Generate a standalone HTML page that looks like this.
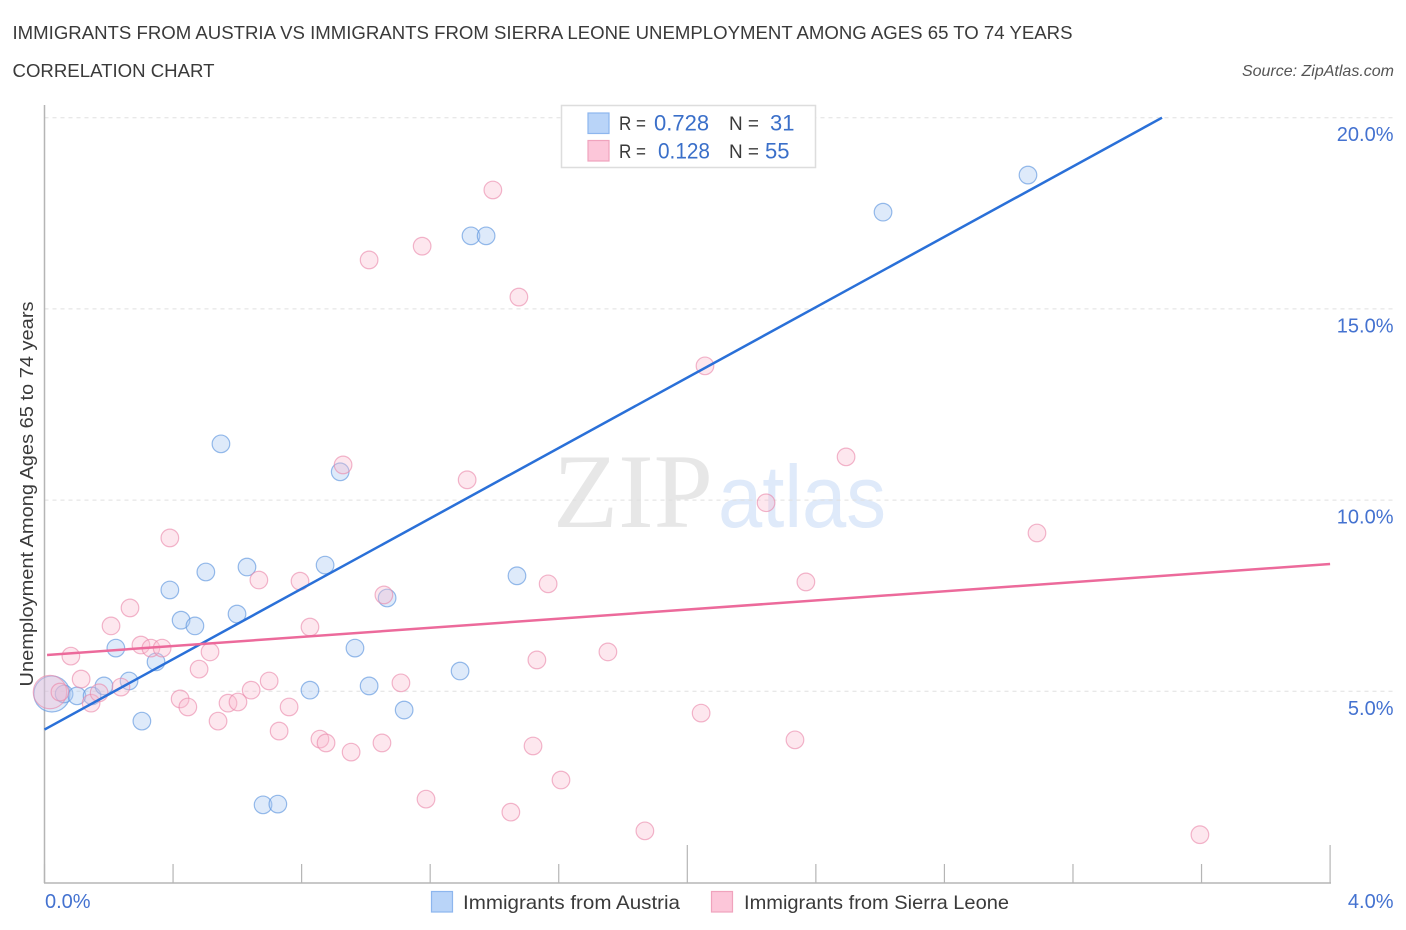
<!DOCTYPE html>
<html>
<head>
<meta charset="utf-8">
<title>Immigrants from Austria vs Immigrants from Sierra Leone Unemployment Correlation Chart</title>
<style>
html,body{margin:0;padding:0;background:#fff;width:1406px;height:930px;overflow:hidden}
svg{display:block;font-family:"Liberation Sans",sans-serif}
</style>
</head>
<body>
<svg id="chart" xmlns="http://www.w3.org/2000/svg" width="1406" height="930" viewBox="0 0 1406 930">
  <rect width="1406" height="930" fill="#ffffff"/>
  <text x="12.5" y="39" font-size="18.5" fill="#3a3a3a" textLength="1060" lengthAdjust="spacingAndGlyphs">IMMIGRANTS FROM AUSTRIA VS IMMIGRANTS FROM SIERRA LEONE UNEMPLOYMENT AMONG AGES 65 TO 74 YEARS</text>
  <text x="12.5" y="77" font-size="18.5" fill="#3a3a3a" textLength="202" lengthAdjust="spacingAndGlyphs">CORRELATION CHART</text>
  <text x="1394" y="76" font-size="16" font-style="italic" fill="#555" text-anchor="end">Source: ZipAtlas.com</text>

  <text x="553" y="527" font-family="'Liberation Serif',serif" font-size="106" fill="#e7e7e7" textLength="160" lengthAdjust="spacingAndGlyphs">ZIP</text>
  <text x="718" y="527" font-size="88" fill="#dfeafa" textLength="168" lengthAdjust="spacingAndGlyphs">atlas</text>

  <g id="grid"></g>
  <g id="axes"></g>
  <g id="points"></g>
  <g id="lines"></g>
  <g id="labels"></g>

  <text transform="translate(33,494) rotate(-90)" font-size="18.5" fill="#3a3a3a" text-anchor="middle" textLength="385" lengthAdjust="spacingAndGlyphs">Unemployment Among Ages 65 to 74 years</text>

  <g>
    <rect x="561.5" y="105.5" width="254" height="62" fill="#ffffff" stroke="#dddddd" stroke-width="1.5"/>
    <rect x="588" y="113" width="21" height="20.5" fill="#b9d4f8" stroke="#8db6ee" stroke-width="1.2"/>
    <rect x="588" y="140.5" width="21" height="20.5" fill="#fcc6d9" stroke="#f0a3bd" stroke-width="1.2"/>
    <text x="619" y="130" font-size="19" fill="#3a3a3a" textLength="27" lengthAdjust="spacingAndGlyphs">R =</text>
    <text x="654" y="130.5" font-size="22" fill="#3a6fc9">0.728</text>
    <text x="729" y="130" font-size="19" fill="#3a3a3a" textLength="30" lengthAdjust="spacingAndGlyphs">N =</text>
    <text x="770" y="130.5" font-size="22" fill="#3a6fc9">31</text>
    <text x="619" y="158" font-size="19" fill="#3a3a3a" textLength="27" lengthAdjust="spacingAndGlyphs">R =</text>
    <text x="658" y="158.5" font-size="22" fill="#3a6fc9" textLength="52" lengthAdjust="spacingAndGlyphs">0.128</text>
    <text x="729" y="158" font-size="19" fill="#3a3a3a" textLength="30" lengthAdjust="spacingAndGlyphs">N =</text>
    <text x="765" y="158.5" font-size="22" fill="#3a6fc9">55</text>
  </g>

  <g>
    <rect x="431.5" y="891.5" width="21" height="20.5" fill="#b9d4f8" stroke="#8db6ee" stroke-width="1.2"/>
    <text x="463" y="909" font-size="19.5" fill="#3a3a3a" textLength="217" lengthAdjust="spacingAndGlyphs">Immigrants from Austria</text>
    <rect x="711.5" y="891.5" width="21" height="20.5" fill="#fcc6d9" stroke="#f0a3bd" stroke-width="1.2"/>
    <text x="744" y="909" font-size="19.5" fill="#3a3a3a" textLength="265" lengthAdjust="spacingAndGlyphs">Immigrants from Sierra Leone</text>
  </g>
</svg>
<script>
// Data (percent units)
const austriaX = [0.023,0.061,0.101,0.148,0.185,0.263,0.222,0.303,0.347,0.390,0.425,0.468,0.502,0.549,0.599,0.630,0.680,0.726,0.826,0.873,0.920,0.966,1.010,1.066,1.119,1.293,1.327,1.374,1.470,2.609,3.060];
const austriaY = [4.93,4.93,4.88,4.88,5.14,5.27,6.13,4.22,5.77,7.65,6.86,6.71,8.12,11.47,7.02,8.25,2.03,2.05,5.03,8.30,10.74,6.13,5.14,7.44,4.51,5.53,16.91,16.91,8.02,17.53,18.50];
const austriaWeight = [4.2,1,1,1,1,1,1,1,1,1,1,1,1,1,1,1,1,1,1,1,1,1,1,1,1,1,1,1,1,1,1];
const sierraX = [0.017,0.048,0.082,0.114,0.145,0.170,0.207,0.238,0.266,0.300,0.331,0.366,0.390,0.422,0.446,0.481,0.515,0.540,0.571,0.602,0.643,0.667,0.699,0.730,0.761,0.795,0.826,0.857,0.876,0.929,0.954,1.010,1.050,1.056,1.109,1.175,1.187,1.315,1.395,1.451,1.476,1.520,1.532,1.567,1.607,1.753,1.868,2.043,2.055,2.245,2.335,2.369,2.494,3.088,3.595];
const sierraY = [4.98,4.98,5.92,5.32,4.69,4.96,6.71,5.11,7.18,6.21,6.13,6.13,9.01,4.80,4.59,5.58,6.03,4.22,4.69,4.72,5.03,7.91,5.27,3.96,4.59,7.88,6.68,3.75,3.65,10.92,3.41,16.28,3.65,7.52,5.22,16.64,2.18,10.53,18.11,1.84,15.31,3.57,5.82,7.81,2.68,6.03,1.35,4.43,13.51,9.93,3.73,7.86,11.13,9.14,1.25];
const sierraWeight = [3.6,1,1,1,1,1,1,1,1,1,1,1,1,1,1,1,1,1,1,1,1,1,1,1,1,1,1,1,1,1,1,1,1,1,1,1,1,1,1,1,1,1,1,1,1,1,1,1,1,1,1,1,1,1,1];
const austriaTrendX = [0, 3.477];
const austriaTrendY = [4.0, 20.0];
const sierraTrendX = [0.008, 4.0];
const sierraTrendY = [5.95, 8.33];
const yTicks = [5, 10, 15, 20];
const yTickLabels = ['5.0%', '10.0%', '15.0%', '20.0%'];
const xTicks = [0, 0.4, 0.8, 1.2, 1.6, 2.0, 2.4, 2.8, 3.2, 3.6, 4.0];
const xMajorTicks = [2.0, 4.0];
const xEndLabels = ['0.0%', '4.0%'];

// Axis functions
const xScale = v => 44.5 + v * 321.4;
const yScale = v => 882.5 - v * 38.24;

const NS = 'http://www.w3.org/2000/svg';
function make(parent, tag, attrs) {
  const el = document.createElementNS(NS, tag);
  for (const k in attrs) el.setAttribute(k, attrs[k]);
  parent.appendChild(el);
  return el;
}
const grid = document.getElementById('grid');
const axes = document.getElementById('axes');
const points = document.getElementById('points');
const lines = document.getElementById('lines');
const labels = document.getElementById('labels');

yTicks.forEach((t, i) => {
  const g = make(grid, 'line', {x1: 44.5, x2: 1394, y1: yScale(t), y2: yScale(t), stroke: '#e0e0e0', 'stroke-width': 1, 'stroke-dasharray': '4 4'});
  
  
  const l = make(labels, 'text', {x: 1393.5, y: yScale(t) + 23.5, 'font-size': 20, fill: '#4472d0', 'text-anchor': 'end'});
  l.textContent = yTickLabels[i];
  
  
});

const yAxis = make(axes, 'line', {x1: 44.5, x2: 44.5, y1: 105, y2: 883, stroke: '#b5b5b5', 'stroke-width': 1.5});


const xAxis = make(axes, 'line', {x1: 44, x2: 1331, y1: 883, y2: 883, stroke: '#b5b5b5', 'stroke-width': 1.5});


xTicks.forEach(t => {
  const tick = make(axes, 'line', {x1: xScale(t), x2: xScale(t), y1: xMajorTicks.includes(t) ? 845 : 864, y2: 883, stroke: '#b5b5b5', 'stroke-width': 1.2});
  
  
});

const x0Label = make(labels, 'text', {x: 45, y: 908, 'font-size': 20, fill: '#4472d0'});
x0Label.textContent = xEndLabels[0];


const x1Label = make(labels, 'text', {x: 1393.5, y: 908, 'font-size': 20, fill: '#4472d0', 'text-anchor': 'end'});
x1Label.textContent = xEndLabels[1];



function radius(w) { return 8.8 * Math.sqrt(w); }

austriaX.forEach((v, i) => {
  const c = make(points, 'circle', {cx: xScale(v), cy: yScale(austriaY[i]), r: radius(austriaWeight[i]), fill: '#a9c9f3', 'fill-opacity': 0.38, stroke: '#5f97de', 'stroke-opacity': 0.65, 'stroke-width': 1.2});
  
  
});
sierraX.forEach((v, i) => {
  const c = make(points, 'circle', {cx: xScale(v), cy: yScale(sierraY[i]), r: radius(sierraWeight[i]), fill: '#f9bcd1', 'fill-opacity': 0.36, stroke: '#ea85a8', 'stroke-opacity': 0.6, 'stroke-width': 1.2});
  
  
});

const blueLine = make(lines, 'line', {x1: xScale(austriaTrendX[0]), y1: yScale(austriaTrendY[0]), x2: xScale(austriaTrendX[1]), y2: yScale(austriaTrendY[1]), stroke: '#2a70d8', 'stroke-width': 2.5});


const pinkLine = make(lines, 'line', {x1: xScale(sierraTrendX[0]), y1: yScale(sierraTrendY[0]), x2: xScale(sierraTrendX[1]), y2: yScale(sierraTrendY[1]), stroke: '#ec6a9b', 'stroke-width': 2.5});


</script>
</body>
</html>
